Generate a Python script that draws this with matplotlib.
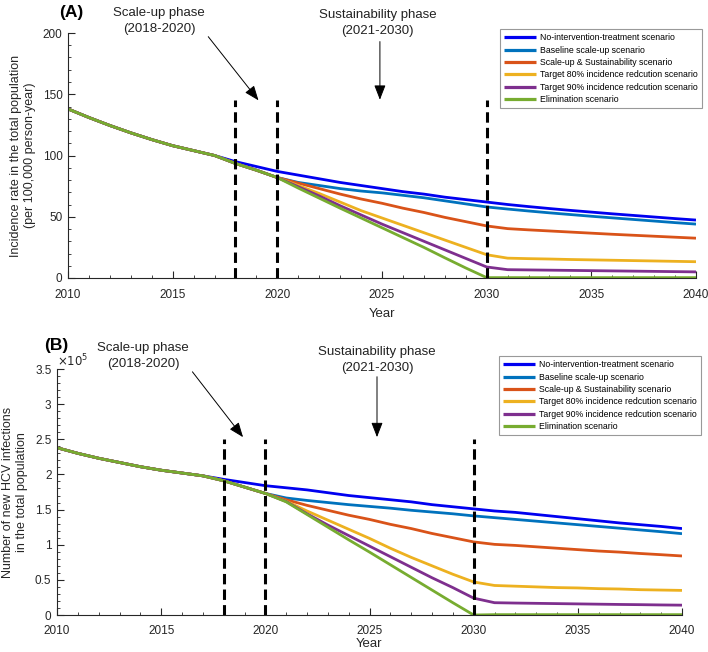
import numpy as np
import matplotlib
matplotlib.use("Agg")
import matplotlib.pyplot as plt
from matplotlib.ticker import MultipleLocator, FuncFormatter

plt.rcParams['font.family'] = ['Liberation Sans', 'DejaVu Sans']

years = list(range(2010, 2041))

labels = ["No-intervention-treatment scenario",
          "Baseline scale-up scenario",
          "Scale-up & Sustainability scenario",
          "Target 80% incidence redcution scenario",
          "Target 90% incidence redcution scenario",
          "Elimination scenario"]
colors = ["#0000F0", "#0072BD", "#D95319", "#EDB120", "#7E2F8E", "#77AC30"]

common_a = [138, 131, 124.5, 118.5, 113, 108, 104, 100]
inc_no_int = common_a + [95, 91, 87, 84, 81, 78, 75.5, 73, 70.5, 68.5, 66, 64, 62,
                         60, 58.3, 56.7, 55.2, 53.8, 52.4, 51.1, 49.8, 48.5, 47.3]
inc_base = common_a + [93.5, 88, 82, 78, 75.5, 73, 71, 69.5, 67.5, 65.5, 63, 60.5, 58,
                       56.3, 54.7, 53.2, 51.8, 50.4, 49.1, 47.8, 46.5, 45.2, 44]
inc_sus = common_a + [93.5, 88, 82, 77.5, 73, 68.5, 64.5, 61, 57, 53.5, 49.5, 46, 42.5,
                      40.3, 39.3, 38.4, 37.5, 36.6, 35.7, 34.9, 34.1, 33.3, 32.5]
inc_80 = common_a + [93.5, 88, 82, 75.5, 69, 62, 55, 49, 43, 37, 31, 25, 19,
                     16.2, 15.8, 15.5, 15.1, 14.8, 14.5, 14.2, 13.9, 13.6, 13.3]
inc_90 = common_a + [93.5, 88, 82, 74.5, 67, 59, 51.5, 44, 37, 30, 23, 16, 9,
                     6.8, 6.6, 6.4, 6.2, 6.0, 5.8, 5.6, 5.4, 5.2, 5.0]
inc_elim = common_a + [93.5, 88, 82, 73.4, 65.2, 57, 49, 41, 33, 25, 16.5, 8.2, 0.3,
                       0.3, 0.3, 0.3, 0.3, 0.3, 0.3, 0.3, 0.3, 0.3, 0.3]

# new infections, in units of 1e5
common_b = [2.38, 2.30, 2.23, 2.17, 2.11, 2.06, 2.02, 1.98]
new_no_int = common_b + [1.93, 1.885, 1.84, 1.81, 1.78, 1.74, 1.70, 1.67, 1.64, 1.61, 1.57, 1.54, 1.51,
                         1.48, 1.46, 1.43, 1.40, 1.37, 1.34, 1.31, 1.285, 1.26, 1.23]
new_base = common_b + [1.91, 1.82, 1.73, 1.665, 1.63, 1.60, 1.57, 1.545, 1.52, 1.49, 1.465, 1.44, 1.41,
                       1.385, 1.36, 1.335, 1.31, 1.285, 1.26, 1.235, 1.21, 1.185, 1.157]
new_sus = common_b + [1.91, 1.82, 1.73, 1.64, 1.56, 1.49, 1.42, 1.36, 1.29, 1.23, 1.16, 1.10, 1.04,
                      1.005, 0.99, 0.97, 0.95, 0.93, 0.91, 0.895, 0.875, 0.858, 0.84]
new_80 = common_b + [1.91, 1.82, 1.73, 1.62, 1.48, 1.35, 1.22, 1.09, 0.95, 0.82, 0.70, 0.58, 0.47,
                     0.42, 0.41, 0.40, 0.39, 0.385, 0.375, 0.37, 0.36, 0.355, 0.35]
new_90 = common_b + [1.91, 1.82, 1.73, 1.615, 1.44, 1.28, 1.13, 0.98, 0.83, 0.68, 0.53, 0.39, 0.24,
                     0.175, 0.17, 0.166, 0.162, 0.158, 0.154, 0.15, 0.147, 0.143, 0.14]
new_elim = common_b + [1.91, 1.82, 1.73, 1.61, 1.43, 1.25, 1.07, 0.895, 0.715, 0.535, 0.355, 0.175, 0.0,
                       0.005, 0.005, 0.005, 0.005, 0.005, 0.005, 0.005, 0.005, 0.005, 0.005]

phase_years = [2018, 2020, 2030]

inc_series = [inc_no_int, inc_base, inc_sus, inc_80, inc_90, inc_elim]
new_series = [new_no_int, new_base, new_sus, new_80, new_90, new_elim]

W, H = 708, 652
fig = plt.figure(figsize=(W / 100, H / 100), dpi=100)
axA = fig.add_axes([68 / W, 1 - 278 / H, (696 - 68) / W, (278 - 33) / H])
axB = fig.add_axes([57 / W, 1 - 615 / H, (682 - 57) / W, (615 - 369) / H])

gray = "#262626"
arrow_kw = dict(arrowstyle="-|>,head_length=0.9,head_width=0.35", color="black", lw=0.7,
                shrinkA=0, shrinkB=0)


def style(ax, xpad, xlabelpad):
    for s in ["top", "right"]:
        ax.spines[s].set_visible(False)
    for s in ["left", "bottom"]:
        ax.spines[s].set_color(gray)
        ax.spines[s].set_linewidth(0.8)
    ax.tick_params(which="both", direction="in", colors=gray, labelsize=8.5,
                   labelcolor=gray)
    ax.tick_params(which="major", length=5, width=0.8)
    ax.tick_params(which="minor", length=2.5, width=0.6)
    ax.tick_params(axis="x", pad=xpad)
    ax.tick_params(axis="y", pad=4)
    ax.set_xlim(2010, 2040)
    ax.xaxis.set_major_locator(MultipleLocator(5))
    ax.xaxis.set_minor_locator(MultipleLocator(1))
    ax.set_xlabel("Year", fontsize=9.5, color=gray, labelpad=xlabelpad)


def legend(ax, anchor):
    leg = ax.legend(loc="upper right", bbox_to_anchor=anchor,
                    bbox_transform=fig.transFigure, fontsize=6.3, frameon=True,
                    fancybox=False, handlelength=3.6, handletextpad=0.5,
                    labelspacing=0.38, borderpad=0.5, borderaxespad=0)
    leg.get_frame().set_edgecolor("#808080")
    leg.get_frame().set_linewidth(0.8)
    for ln in leg.get_lines():
        ln.set_linewidth(2.3)
    return leg


# Panel A
for ys, c, lab in zip(inc_series, colors, labels):
    axA.plot(years, ys, color=c, lw=2.0, label=lab, solid_capstyle="butt")
for x in phase_years:
    axA.plot([x, x], [0, 145], color="black", lw=2.2, ls=(0, (3.4, 1.7)))
style(axA, 8, 5)
axA.set_ylim(0, 200)
axA.yaxis.set_major_locator(MultipleLocator(50))
axA.yaxis.set_minor_locator(MultipleLocator(10))
axA.set_ylabel("Incidence rate in the total population\n(per 100,000 person-year)",
               fontsize=9.0, color=gray, labelpad=5)
axA.text(2014.35, 209.5, "Scale-up phase\n(2018-2020)", ha="center", va="center",
         fontsize=9.5, color="#222222", linespacing=1.45, clip_on=False)
axA.text(2024.8, 208.5, "Sustainability phase\n(2021-2030)", ha="center", va="center",
         fontsize=9.5, color="#222222", linespacing=1.45, clip_on=False)
axA.annotate("", xy=(2019.1, 145), xytext=(2016.7, 197), annotation_clip=False,
             arrowprops=arrow_kw)
axA.annotate("", xy=(2024.9, 145.5), xytext=(2024.9, 193), annotation_clip=False,
             arrowprops=arrow_kw)
legend(axA, (702 / W, 1 - 29 / H))
fig.text(59 / W, 1 - 12 / H, "(A)", fontsize=12.5, fontweight="bold", va="center", ha="left")

# Panel B
for ys, c, lab in zip(new_series, colors, labels):
    axB.plot(years, np.array(ys) * 1e5, color=c, lw=2.0, label=lab, solid_capstyle="butt")
for x in phase_years:
    axB.plot([x, x], [0, 2.5e5], color="black", lw=2.2, ls=(0, (3.4, 1.7)))
style(axB, 7, 1)
axB.set_ylim(0, 3.5e5)
axB.yaxis.set_major_locator(MultipleLocator(0.5e5))
axB.yaxis.set_minor_locator(MultipleLocator(0.1e5))
axB.yaxis.set_major_formatter(FuncFormatter(lambda v, p: "%g" % round(v / 1e5, 2)))
axB.text(0.0, 0.998, r"$\times10^{5}$", transform=axB.transAxes, ha="left", va="bottom",
         fontsize=8.5, color=gray)
axB.set_ylabel("Number of new HCV infections\nin the total population",
               fontsize=9.0, color=gray, labelpad=5)
axB.text(2014.13, 3.685e5, "Scale-up phase\n(2018-2020)", ha="center", va="center",
         fontsize=9.5, color="#222222", linespacing=1.45, clip_on=False)
axB.text(2025.36, 3.625e5, "Sustainability phase\n(2021-2030)", ha="center", va="center",
         fontsize=9.5, color="#222222", linespacing=1.45, clip_on=False)
axB.annotate("", xy=(2018.93, 2.53e5), xytext=(2016.5, 3.46e5), annotation_clip=False,
             arrowprops=arrow_kw)
axB.annotate("", xy=(2025.36, 2.53e5), xytext=(2025.36, 3.39e5), annotation_clip=False,
             arrowprops=arrow_kw)
legend(axB, (701 / W, 1 - 356 / H))
fig.text(44 / W, 1 - 345 / H, "(B)", fontsize=12.5, fontweight="bold", va="center", ha="left")

fig.savefig("out.png", dpi=100)
